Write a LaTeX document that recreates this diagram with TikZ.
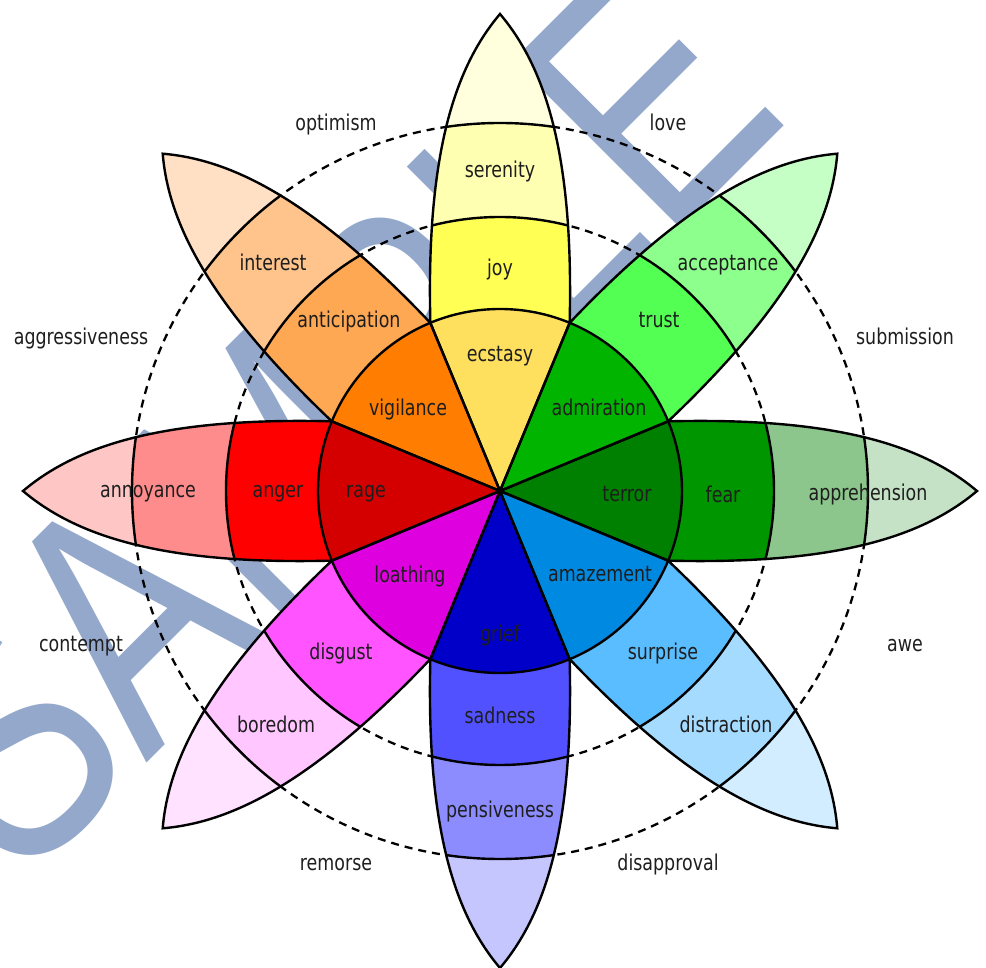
\documentclass[tikz,border=0pt]{standalone}
\usepackage{fontspec}
\setmainfont{DejaVu Sans}[FakeStretch=0.8]
\newfontfamily\markfont{Liberation Sans}[FakeStretch=0.78]

\definecolor{MarkClr}{RGB}{148,168,204}
\definecolor{TextClr}{RGB}{30,30,30}
\definecolor{RageClr}{RGB}{212,0,0}
\definecolor{AngerClr}{RGB}{255,0,0}
\definecolor{AnnoyanceClr}{RGB}{255,140,140}
\definecolor{AngerTipClr}{RGB}{255,198,198}
\definecolor{VigilanceClr}{RGB}{255,125,0}
\definecolor{AnticipationClr}{RGB}{255,168,84}
\definecolor{InterestClr}{RGB}{255,196,140}
\definecolor{AnticipationTipClr}{RGB}{255,224,196}
\definecolor{EcstasyClr}{RGB}{255,224,94}
\definecolor{JoyClr}{RGB}{255,255,84}
\definecolor{SerenityClr}{RGB}{255,255,177}
\definecolor{JoyTipClr}{RGB}{255,255,221}
\definecolor{AdmirationClr}{RGB}{0,180,0}
\definecolor{TrustClr}{RGB}{84,255,84}
\definecolor{AcceptanceClr}{RGB}{140,255,140}
\definecolor{TrustTipClr}{RGB}{198,255,198}
\definecolor{TerrorClr}{RGB}{0,128,0}
\definecolor{FearClr}{RGB}{0,150,0}
\definecolor{ApprehensionClr}{RGB}{140,198,140}
\definecolor{FearTipClr}{RGB}{198,226,198}
\definecolor{AmazementClr}{RGB}{0,137,224}
\definecolor{SurpriseClr}{RGB}{89,189,255}
\definecolor{DistractionClr}{RGB}{165,219,255}
\definecolor{SurpriseTipClr}{RGB}{210,237,255}
\definecolor{GriefClr}{RGB}{0,0,200}
\definecolor{SadnessClr}{RGB}{81,81,255}
\definecolor{PensivenessClr}{RGB}{140,140,255}
\definecolor{SadnessTipClr}{RGB}{198,198,255}
\definecolor{LoathingClr}{RGB}{222,0,222}
\definecolor{DisgustClr}{RGB}{255,84,255}
\definecolor{BoredomClr}{RGB}{255,198,255}
\definecolor{DisgustTipClr}{RGB}{255,226,255}

% one petal, pointing to the right
\newcommand{\petalpath}{(0,0) -- (-22.5:182) .. controls (340,-74) and (425,-44) .. (477,0)
  .. controls (425,44) and (340,74) .. (22.5:182) -- cycle}

\begin{document}
\begin{tikzpicture}[x=1pt,y=1pt,
  font=\fontsize{21.8}{26}\selectfont,
  petal line/.style={line width=2.4pt,color=black},
  ring/.style={line width=2.3pt,color=black,dash pattern=on 8pt off 6pt},
  lbl/.style={text=TextClr,inner sep=0pt,text height=1ex,text depth=0pt,yshift=-5pt}]
\useasboundingbox (-500,-477) rectangle (486,491);

\node[rotate=45,anchor=base,text=MarkClr,inner sep=0pt] (mark) at (-94,-13)
  {\markfont\fontsize{345}{345}\selectfont SAMPLE};

\draw[ring] (0,0) circle (274) (0,0) circle (368);

\foreach \ang/\ca/\cb/\cc/\cd in {90/EcstasyClr/JoyClr/SerenityClr/JoyTipClr,
  45/AdmirationClr/TrustClr/AcceptanceClr/TrustTipClr,
  0/TerrorClr/FearClr/ApprehensionClr/FearTipClr,
  -45/AmazementClr/SurpriseClr/DistractionClr/SurpriseTipClr,
  -90/GriefClr/SadnessClr/PensivenessClr/SadnessTipClr,
  -135/LoathingClr/DisgustClr/BoredomClr/DisgustTipClr,
  180/RageClr/AngerClr/AnnoyanceClr/AngerTipClr,
  135/VigilanceClr/AnticipationClr/InterestClr/AnticipationTipClr}
{
  \begin{scope}[rotate=\ang]
    \clip \petalpath;
    \fill[\cd] (0,0) circle (480);
    \fill[\cc] (0,0) circle (368);
    \fill[\cb] (0,0) circle (274);
    \fill[\ca] (0,0) circle (182);
  \end{scope}
}

\foreach \ang in {0,45,...,315}
{
  \begin{scope}[rotate=\ang]
    \begin{scope}
      \clip \petalpath;
      \draw[petal line] (0,0) circle (274) (0,0) circle (368);
    \end{scope}
    \draw[petal line] \petalpath;
  \end{scope}
}
\draw[petal line] (0,0) circle (182);

% primary emotions, three strengths
\node[lbl] (ecstasy) at (0,137) {ecstasy};
\node[lbl] (joy) at (0,223) {joy};
\node[lbl] (serenity) at (0,321) {serenity};
\node[lbl] (admiration) at (99,83) {admiration};
\node[lbl] (trust) at (159,171) {trust};
\node[lbl] (acceptance) at (228,228) {acceptance};
\node[lbl] (terror) at (127,-3) {terror};
\node[lbl] (fear) at (223,-4) {fear};
\node[lbl] (apprehension) at (368,-2) {apprehension};
\node[lbl] (amazement) at (100,-83) {amazement};
\node[lbl] (surprise) at (163,-161) {surprise};
\node[lbl] (distraction) at (226,-234) {distraction};
\node[lbl] (grief) at (0,-143) {grief};
\node[lbl] (sadness) at (0,-225) {sadness};
\node[lbl] (pensiveness) at (0,-319) {pensiveness};
\node[lbl] (loathing) at (-90,-84) {loathing};
\node[lbl] (disgust) at (-159,-161) {disgust};
\node[lbl] (boredom) at (-224,-234) {boredom};
\node[lbl] (rage) at (-134,1) {rage};
\node[lbl] (anger) at (-222,1) {anger};
\node[lbl] (annoyance) at (-352,1) {annoyance};
\node[lbl] (vigilance) at (-92,83) {vigilance};
\node[lbl] (anticipation) at (-151,171) {anticipation};
\node[lbl] (interest) at (-227,228) {interest};

% dyads
\node[lbl] (optimism) at (-164,368) {optimism};
\node[lbl] (love) at (168,368) {love};
\node[lbl] (submission) at (405,154) {submission};
\node[lbl] (awe) at (405,-153) {awe};
\node[lbl] (disapproval) at (168,-372) {disapproval};
\node[lbl] (remorse) at (-164,-372) {remorse};
\node[lbl] (contempt) at (-419,-153) {contempt};
\node[lbl] (aggressiveness) at (-419,154) {aggressiveness};
\end{tikzpicture}
\end{document}
